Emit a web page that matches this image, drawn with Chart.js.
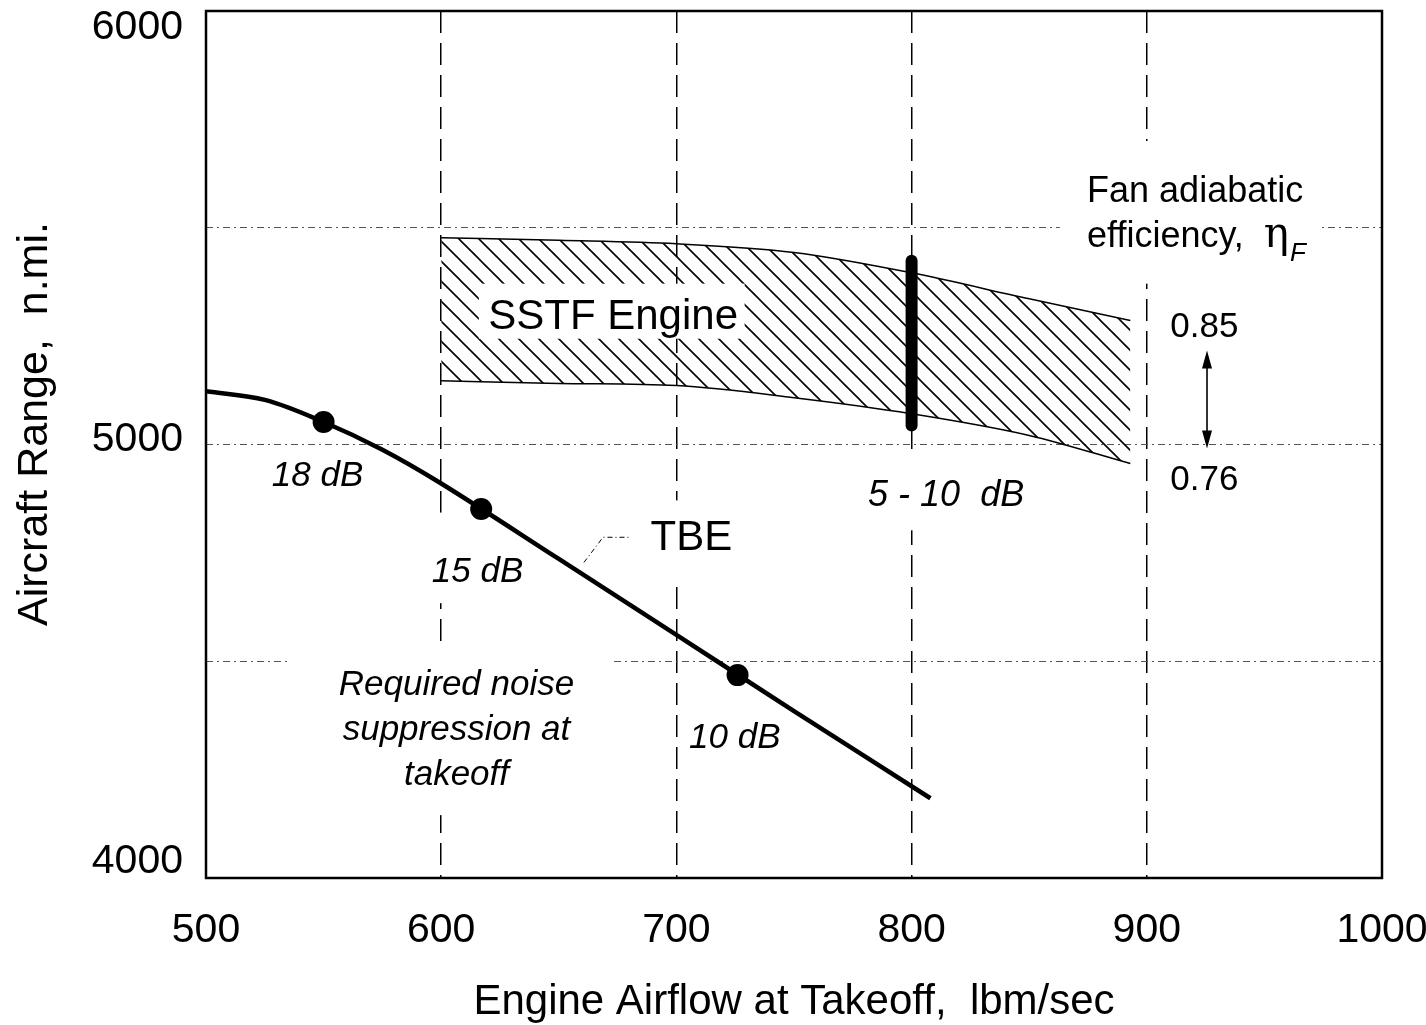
<!DOCTYPE html>
<html>
<head>
<meta charset="utf-8">
<style>
  html, body { margin: 0; padding: 0; background: #fff; }
  canvas { display: block; }
</style>
<script src="https://cdn.jsdelivr.net/npm/chart.js@4.4.1/dist/chart.umd.min.js"></script>
</head>
<body>
<canvas id="chart" width="1426" height="1025"></canvas>
<script>
// axis ticks
const xTicks = [500, 600, 700, 800, 900, 1000];
const yTicks = [4000, 5000, 6000];

// SSTF engine band (upper edge eta_F = 0.85, lower edge eta_F = 0.76)
const sstfX    = [600, 650, 700, 750, 800, 850, 893];
const sstfHigh = [5477, 5471, 5463, 5443, 5396, 5336, 5286];
const sstfLow  = [5147, 5141, 5136, 5108, 5071, 5021, 4956];

// TBE curve and its noise-suppression points
const tbeX = [500, 525, 550, 575, 600, 650, 700, 750, 808];
const tbeY = [5123, 5103, 5052, 4988, 4910, 4736, 4561, 4385, 4184];
const dotX = [550, 617, 726];
const dotY = [5052, 4851, 4468];
const dotLabels = ["18 dB", "15 dB", "10 dB"];

// SSTF 5 - 10 dB bar at 800 lbm/sec
const barX = [800, 800];
const barY = [5044, 5424];

const FONT = "'Liberation Sans', Arial, Helvetica, sans-serif";
const el = (id) => document.getElementById(id);
const pts = (xs, ys) => xs.map((x, i) => ({ x, y: ys[i] }));

function hatch() {
  const c = document.createElement("canvas");
  c.width = 20; c.height = 20;
  const g = c.getContext("2d");
  g.strokeStyle = "#000";
  g.lineWidth = 1.6;
  g.beginPath();
  g.moveTo(-2, -2); g.lineTo(22, 22);
  g.moveTo(-2, 18); g.lineTo(2, 22);
  g.moveTo(18, -2); g.lineTo(22, 2);
  g.stroke();
  return el("chart").getContext("2d").createPattern(c, "repeat");
}

// white patches where labels break the grid: [x0, x1, yTop, yBottom] in data units
const gridGaps = [
  [863, 973, 5700, 5371],
  [536, 673, 4530, 4145],
  [593, 638, 4843, 4634],
  [684, 727, 4871, 4691],
  [778, 852, 4986, 4802]
];
const sstfGap = [616, 729, 5371, 5244];

function whiteBox(chart, b) {
  const sx = chart.scales.x, sy = chart.scales.y;
  const x0 = sx.getPixelForValue(b[0]), x1 = sx.getPixelForValue(b[1]);
  const y0 = sy.getPixelForValue(b[2]), y1 = sy.getPixelForValue(b[3]);
  chart.ctx.fillStyle = "#fff";
  chart.ctx.fillRect(x0, y0, x1 - x0, y1 - y0);
}

function text(ctx, s, x, y, font, align) {
  ctx.font = font;
  ctx.textAlign = align || "left";
  ctx.fillText(s, x, y);
}

const notes = {
  id: "notes",
  beforeDatasetsDraw(chart) {
    const ctx = chart.ctx;
    ctx.save();
    gridGaps.forEach(b => whiteBox(chart, b));
    ctx.restore();
  },
  afterDatasetsDraw(chart) {
    const { ctx, chartArea: a } = chart;
    const sx = chart.scales.x, sy = chart.scales.y;
    const X = (v) => sx.getPixelForValue(v), Y = (v) => sy.getPixelForValue(v);
    ctx.save();
    whiteBox(chart, sstfGap);
    ctx.fillStyle = "#000";
    ctx.textBaseline = "alphabetic";

    // frame
    ctx.strokeStyle = "#000";
    ctx.lineWidth = 2.5;
    ctx.strokeRect(a.left, a.top, a.right - a.left, a.bottom - a.top);

    text(ctx, "SSTF Engine", X(620), Y(5267), "42px " + FONT);
    text(ctx, "TBE", X(689), Y(4756), "42px " + FONT);

    const it = "italic 35px " + FONT;
    text(ctx, dotLabels[0], X(528), Y(4905), it);
    text(ctx, dotLabels[1], X(596), Y(4682), it);
    text(ctx, dotLabels[2], X(705.4), Y(4300), it);
    text(ctx, "5 - 10  dB", X(781.5), Y(4859), "italic 36px " + FONT);

    text(ctx, "Required noise", X(606.5), Y(4422), it, "center");
    text(ctx, "suppression at", X(606.5), Y(4318), it, "center");
    text(ctx, "takeoff", X(606.5), Y(4214), it, "center");

    text(ctx, "Fan adiabatic", X(874.6), Y(5560), "36px " + FONT);
    text(ctx, "efficiency,  ", X(874.6), Y(5456), "36px " + FONT);
    ctx.font = "36px " + FONT;
    const w = ctx.measureText("efficiency,  ").width;
    text(ctx, "\u03B7", X(874.6) + w, Y(5456), "42px 'DejaVu Serif', serif");
    ctx.font = "42px 'DejaVu Serif', serif";
    const we = ctx.measureText("\u03B7").width;
    text(ctx, "F", X(874.6) + w + we + 1, Y(5456) + 14, "italic 26px " + FONT);

    text(ctx, "0.85", X(910), Y(5249), "35px " + FONT);
    text(ctx, "0.76", X(910), Y(4894), "35px " + FONT);

    // double arrow between the efficiency values
    const ax = X(925.6), ay0 = Y(5217), ay1 = Y(4991);
    ctx.lineWidth = 1.6;
    ctx.beginPath();
    ctx.moveTo(ax, ay0 + 12); ctx.lineTo(ax, ay1 - 12);
    ctx.stroke();
    ctx.beginPath();
    ctx.moveTo(ax, ay0); ctx.lineTo(ax - 5, ay0 + 18); ctx.lineTo(ax + 5, ay0 + 18); ctx.closePath();
    ctx.moveTo(ax, ay1); ctx.lineTo(ax - 5, ay1 - 18); ctx.lineTo(ax + 5, ay1 - 18); ctx.closePath();
    ctx.fill();

    // TBE leader
    ctx.lineWidth = 1;
    ctx.setLineDash([5, 3, 1, 3]);
    ctx.beginPath();
    ctx.moveTo(X(660.7), Y(4728));
    ctx.lineTo(X(668.8), Y(4786));
    ctx.lineTo(X(680.3), Y(4786));
    ctx.stroke();
    ctx.setLineDash([]);
    ctx.restore();
  },
  afterDraw(chart) {
    const { ctx, chartArea: a } = chart;
    const sx = chart.scales.x, sy = chart.scales.y;
    ctx.save();
    ctx.fillStyle = "#000";
    ctx.textBaseline = "middle";
    xTicks.forEach(v => text(ctx, String(v), sx.getPixelForValue(v), 931, "41px " + FONT, "center"));
    yTicks.forEach(v => {
      const y = Math.min(Math.max(sy.getPixelForValue(v) - 5, a.top + 17), a.bottom - 16);
      text(ctx, String(v), 183, y, "41px " + FONT, "right");
    });
    ctx.textBaseline = "alphabetic";
    text(ctx, "Engine Airflow at Takeoff,  lbm/sec", (a.left + a.right) / 2, 1014, "42px " + FONT, "center");
    ctx.translate(47, 424);
    ctx.rotate(-Math.PI / 2);
    text(ctx, "Aircraft Range,  n.mi.", 0, 0, "43px " + FONT, "center");
    ctx.restore();
  }
};

const line = (data, extra) => Object.assign({
  data, borderColor: "#000", borderWidth: 1.5, pointRadius: 0,
  fill: false, tension: 0.4, cubicInterpolationMode: "monotone"
}, extra);

new Chart(el("chart"), {
  type: "line",
  data: {
    datasets: [
      line(pts(sstfX, sstfHigh), { fill: "+1", backgroundColor: hatch() }),
      line(pts(sstfX, sstfLow)),
      line(pts(tbeX, tbeY), { borderWidth: 4.5, cubicInterpolationMode: "default", tension: 0.35 }),
      line(pts(dotX, dotY), { showLine: false, pointRadius: 11, pointBackgroundColor: "#000", pointBorderWidth: 0 }),
      line(pts(barX, barY), { borderWidth: 12, borderCapStyle: "round", tension: 0 })
    ]
  },
  options: {
    responsive: false,
    devicePixelRatio: 1,
    animation: false,
    events: [],
    layout: { padding: { left: 206, right: 44, top: 10, bottom: 147 } },
    plugins: { legend: { display: false }, tooltip: { enabled: false } },
    scales: {
      x: {
        type: "linear", min: 500, max: 1000,
        afterFit: (s) => { s.height = 0; },
        ticks: { display: false, stepSize: 100 },
        border: { display: false, dash: [22, 10] },
        grid: {
          drawTicks: false, lineWidth: 1.5,
          color: (c) => (c.tick && (c.tick.value === 500 || c.tick.value === 1000)) ? "rgba(0,0,0,0)" : "#000"
        }
      },
      y: {
        type: "linear", min: 4000, max: 6000,
        afterFit: (s) => { s.width = 0; },
        ticks: { display: false, stepSize: 500 },
        border: { display: false, dash: [7, 4, 2, 4] },
        grid: {
          drawTicks: false, lineWidth: 1,
          color: (c) => (c.tick && (c.tick.value === 4000 || c.tick.value === 6000)) ? "rgba(0,0,0,0)" : "#555"
        }
      }
    }
  },
  plugins: [notes]
});
</script>
</body>
</html>
